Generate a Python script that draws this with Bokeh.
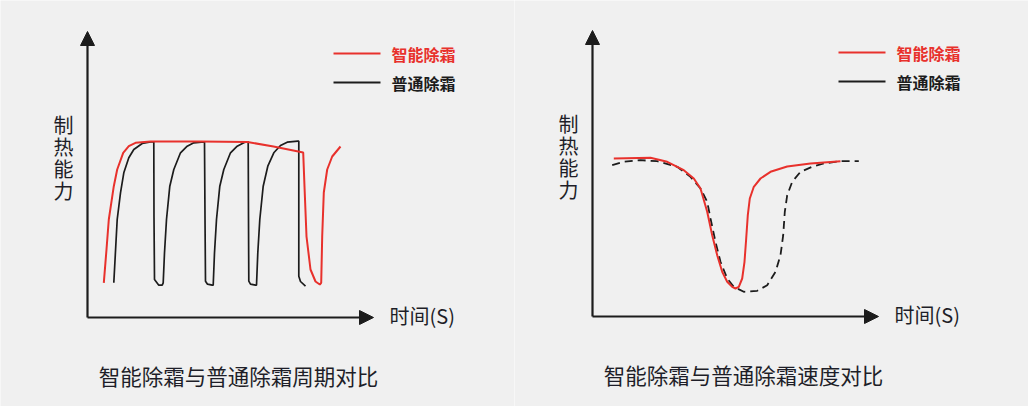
from bokeh.plotting import figure
from bokeh.models import Range1d, Arrow, NormalHead, Label
from bokeh.layouts import row
from bokeh.embed import file_html
from bokeh.resources import INLINE

# ---------------- data (time, heating capacity) ----------------
# Left panel: 智能除霜与普通除霜周期对比
left_smart_t = [16.3, 19, 21.3, 26.3, 29.7, 35.7, 41.3, 48, 63, 113, 160, 186, 215.7,
                217, 219, 223, 228, 232.3, 233.7, 234.7, 236.3, 239.7, 244.7, 253]
left_smart_c = [34.7, 68, 98, 131.3, 148, 164.7, 171.3, 174.7, 176, 176, 175.5, 171, 165,
                131, 81, 48, 36, 33, 34.7, 81, 125, 148, 161, 171]

left_normal_t = [26.3, 29.7, 33, 36.3, 41.3, 46.3, 54.7, 63, 66.3, 66.5, 67, 71.3, 74.7,
                 75.7, 77, 79, 82.3, 86.3, 93, 99.7, 106.3, 116.3, 117, 117.5, 118, 120, 124.7,
                 125.7, 127, 129, 132.3, 136.3, 143, 149.7, 156.3, 159.7, 160.7, 161, 161.3, 163, 168,
                 169, 170.3, 172.3, 175.7, 180.3, 186.3, 193, 199.7, 210.3, 211.3, 211.3, 213, 218]
left_normal_c = [34.7, 98, 124.7, 144.7, 159.7, 168, 174, 175.7, 175.7, 100, 38, 32.3, 32.3,
                 34.7, 64.7, 98, 131.3, 148, 164.7, 171.3, 174.7, 175.7, 175.7, 100, 36.3, 33.3, 32.3,
                 32.3, 64.7, 98, 131.3, 148, 164.7, 171.3, 174.7, 175.7, 175.7, 100, 36.3, 33.3, 32.3,
                 32.3, 64.7, 98, 131.3, 151.3, 164.7, 172, 175.3, 176.3, 176.3, 41.3, 36, 31.3]

# Right panel: 智能除霜与普通除霜速度对比
right_smart_t = [21.3, 58, 74.7, 91.3, 101.3, 108, 114.7, 119.7, 124.7, 129.7, 134.7, 139.7,
                 143, 146.3, 149.7, 152, 153.7, 155.3, 157.3, 161.3, 168, 178, 194.7, 218, 248]
right_smart_c = [158, 158.7, 154.7, 146.3, 138, 128, 104.7, 81.3, 61.3, 44.7, 34.7, 29.7,
                 28, 29.7, 38, 54.7, 78, 101.3, 118, 129.7, 138, 144.7, 150, 153, 155.3]

right_normal_t = [19.7, 31.3, 48, 64.7, 84.7, 98, 108, 114.7, 118, 123, 128, 134.7, 141.3,
                  151.3, 164.7, 174.7, 183, 188, 190.7, 192.3, 194.7, 199.7, 208, 219.7, 231.3,
                  248, 266.3]
right_normal_c = [151.3, 154.7, 156.3, 155.3, 149.7, 139.7, 128, 114.7, 98, 74.7, 54.7, 38,
                  29.7, 24.7, 25.7, 31.3, 44.7, 61.3, 81.3, 104.7, 121.3, 134.7, 144.7, 149.7,
                  153, 155.3, 155.3]

legend_labels = ["智能除霜", "普通除霜"]
y_label = "制热能力"
x_label = "时间(S)"
captions = ["智能除霜与普通除霜周期对比", "智能除霜与普通除霜速度对比"]

# ---------------- style ----------------
BG = "#f0f0f0"
RED = "#e8312c"
BLACK = "#1c1c1c"
TEXT = "#1e1e28"
CJK = "Noto Sans CJK SC"
AXIS_LEN = 286


def make_panel(xr, yr, smart_t, smart_c, normal_t, normal_c, dashed, caption):
    p = figure(width=514, height=406, x_range=Range1d(*xr), y_range=Range1d(*yr),
               output_backend="svg", toolbar_location=None, min_border=0,
               x_axis_type=None, y_axis_type=None)
    p.background_fill_color = BG
    p.border_fill_color = BG
    p.outline_line_color = None
    p.grid.visible = False

    # axes with arrow heads
    for xe, ye in ((AXIS_LEN, 0), (0, AXIS_LEN)):
        p.add_layout(Arrow(x_start=0, y_start=0, x_end=xe, y_end=ye,
                           line_color=BLACK, line_width=2.2,
                           end=NormalHead(size=14, fill_color=BLACK, line_color=BLACK, line_width=1)))

    # curves
    if dashed:
        p.line(normal_t, normal_c, line_color=BLACK, line_width=1.8, line_dash="8 5")
    else:
        p.line(normal_t, normal_c, line_color=BLACK, line_width=1.7)
    p.line(smart_t, smart_c, line_color=RED, line_width=2)

    # legend
    p.line([246, 293], [264, 264], line_color=RED, line_width=2)
    p.line([246, 293], [235, 235], line_color=BLACK, line_width=2)
    p.add_layout(Label(x=304, y=264, text=legend_labels[0], text_font=CJK, text_font_size="16px",
                       text_font_style="bold", text_color=RED, text_baseline="middle"))
    p.add_layout(Label(x=304, y=235, text=legend_labels[1], text_font=CJK, text_font_size="16px",
                       text_font_style="bold", text_color=BLACK, text_baseline="middle"))

    # y label (stacked characters)
    for i, ch in enumerate(y_label):
        p.add_layout(Label(x=-24, y=193 - i * 22, text=ch, text_font=CJK, text_font_size="20px",
                           text_color=TEXT, text_align="center", text_baseline="middle"))
    # x label
    p.add_layout(Label(x=302, y=2, text=x_label, text_font=CJK, text_font_size="20px",
                       text_color=TEXT, text_baseline="middle"))
    # caption
    p.add_layout(Label(x=151, y=-58, text=caption, text_font=CJK, text_font_size="21.5px",
                       text_color=TEXT, text_align="center", text_baseline="middle"))
    return p


p1 = make_panel((-87, 427), (-89, 317), left_smart_t, left_smart_c,
                left_normal_t, left_normal_c, False, captions[0])
p2 = make_panel((-78, 436), (-90, 316), right_smart_t, right_smart_c,
                right_normal_t, right_normal_c, True, captions[1])

layout = row(p1, p2, spacing=0)
open("out.html", "w").write(file_html(layout, INLINE))
